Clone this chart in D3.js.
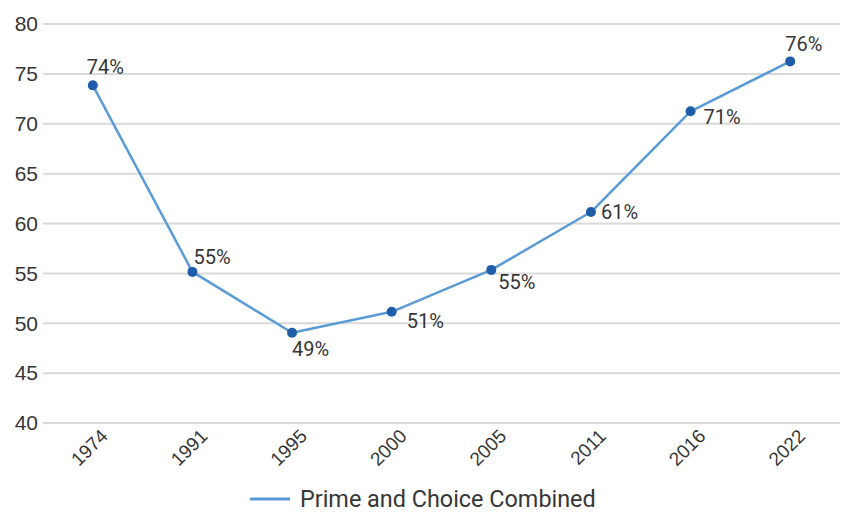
<!DOCTYPE html>
<html>
<head>
<meta charset="utf-8">
<script src="https://cdn.jsdelivr.net/npm/d3@7"></script>
<style>
  html, body { margin: 0; padding: 0; background: #fff; }
  svg { display: block; font-family: Roboto, "Noto Sans", sans-serif; }
</style>
</head>
<body>
<svg id="chart" width="846" height="512"></svg>
<script>
// Share of graded beef, by survey year
const years = ["1974", "1991", "1995", "2000", "2005", "2011", "2016", "2022"];
const shares = [73.8, 55.1, 49.0, 51.1, 55.3, 61.1, 71.2, 76.2];
const yTicks = [40, 45, 50, 55, 60, 65, 70, 75, 80];
const seriesName = "Prime and Choice Combined";

// Where each value label sits relative to its point
const labelOffsets = [
  [-6, -11], [1, -8], [0, 23], [15, 16], [7, 19], [10, 7], [13, 13], [-5, -10]
];

(function draw() {
  const svg = d3.select("#chart");
  const plotLeft = 43, plotRight = 840, plotTop = 23.5, plotBottom = 422.5;
  const ink = "#363636";

  const x = d3.scalePoint().domain(years).range([plotLeft, plotRight]).padding(0.5);
  const y = d3.scaleLinear().domain([40, 80]).range([plotBottom, plotTop]);

  // Horizontal gridlines and value axis labels
  const yAxis = d3.axisLeft(y).tickValues(yTicks).tickSize(-(plotRight - plotLeft)).tickPadding(5);
  const gy = svg.append("g").attr("transform", `translate(${plotLeft},0)`).call(yAxis);
  gy.select(".domain").remove();
  gy.selectAll(".tick line").attr("stroke", "#d9d9d9").attr("stroke-width", 2);
  gy.selectAll(".tick text")
    .attr("fill", ink).attr("font-size", 21).attr("x", -5).attr("dy", "0.35em");

  // Year labels, slanted
  const xAxis = d3.axisBottom(x).tickSize(0).tickPadding(0);
  const gx = svg.append("g").attr("transform", `translate(0,${plotBottom})`).call(xAxis);
  gx.select(".domain").remove();
  gx.selectAll(".tick text")
    .attr("fill", ink).attr("font-size", 19)
    .attr("text-anchor", "end")
    .attr("y", 0).attr("dy", "0.35em")
    .attr("transform", "translate(11,10) rotate(-45)");

  // Series line
  const pts = years.map((yr, i) => ({ yr, v: shares[i], off: labelOffsets[i] }));
  svg.append("path")
    .datum(pts)
    .attr("fill", "none")
    .attr("stroke", "#5b9bd5")
    .attr("stroke-width", 2.5)
    .attr("stroke-linejoin", "round")
    .attr("d", d3.line().x(d => x(d.yr)).y(d => y(d.v)));

  // Markers
  svg.append("g").selectAll("circle").data(pts).join("circle")
    .attr("cx", d => x(d.yr)).attr("cy", d => y(d.v)).attr("r", 5)
    .attr("fill", "#1f5dab");

  // Value labels
  const fmt = d3.format(".0f");
  svg.append("g").selectAll("text").data(pts).join("text")
    .attr("x", d => x(d.yr) + d.off[0])
    .attr("y", d => y(d.v) + d.off[1])
    .attr("fill", ink).attr("font-size", 20)
    .text(d => fmt(d.v) + "%");

  // Legend
  const lg = svg.append("g").attr("transform", "translate(250,499)");
  lg.append("line").attr("x1", 0).attr("x2", 40).attr("y1", 0).attr("y2", 0)
    .attr("stroke", "#5b9bd5").attr("stroke-width", 3);
  lg.append("text").attr("x", 50).attr("y", 0).attr("dy", "0.35em")
    .attr("fill", ink).attr("font-size", 23.4).text(seriesName);
})();
</script>
</body>
</html>
